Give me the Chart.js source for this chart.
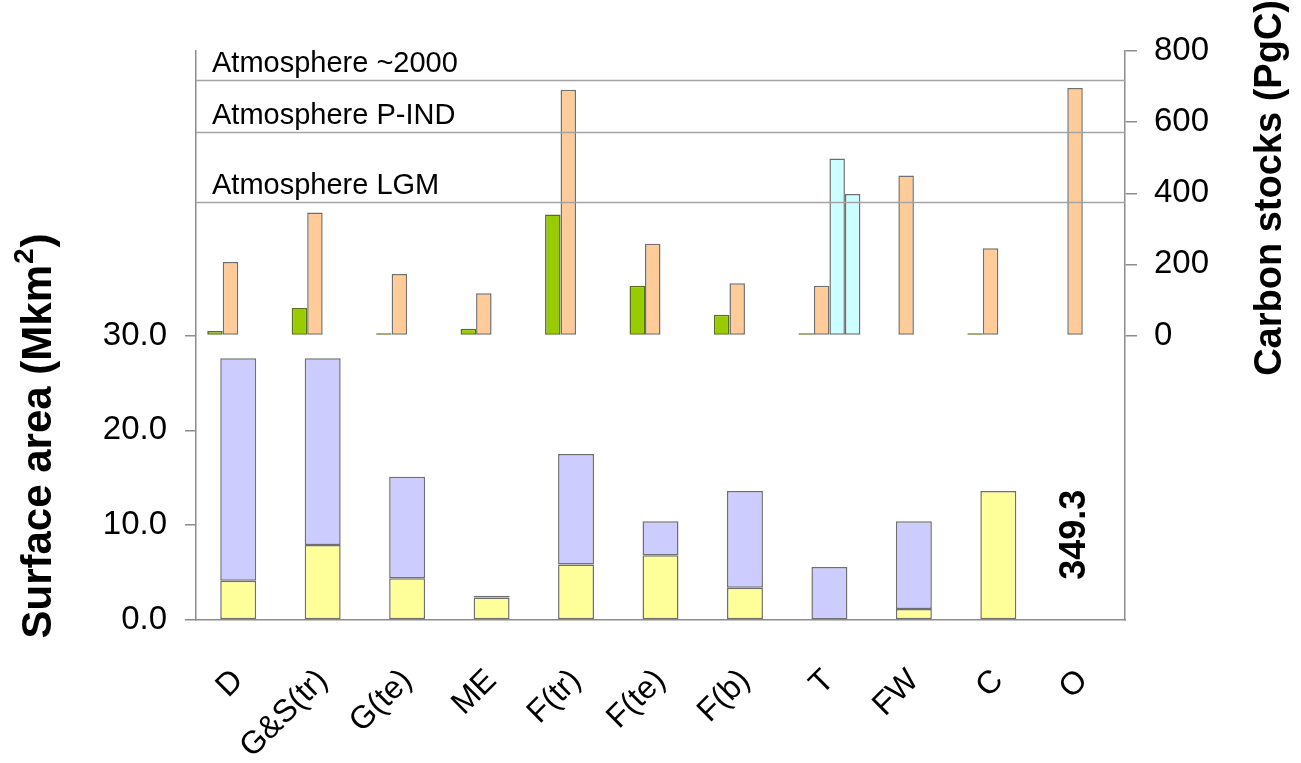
<!DOCTYPE html>
<html>
<head>
<meta charset="utf-8">
<script src="https://cdn.jsdelivr.net/npm/chart.js@4.4.1/dist/chart.umd.min.js"></script>
<style>
  html, body { margin: 0; padding: 0; background: #ffffff; }
  #wrap { width: 1301px; height: 763px; }
</style>
</head>
<body>
<div id="wrap"><canvas id="chart" width="1301" height="763"></canvas></div>
<script>
// Biome categories
const categories = ['D', 'G&S(tr)', 'G(te)', 'ME', 'F(tr)', 'F(te)', 'F(b)', 'T', 'FW', 'C', 'O'];

// Surface area (Mkm²), drawn as two stacked parts
const areaLower = [4.15, 7.9, 4.4, 2.36, 5.85, 6.83, 3.4, null, 1.16, 13.6, null];
const areaUpper = [23.45, 19.7, 10.7, 0.21, 11.65, 3.57, 10.2, 5.6, 9.24, null, null];
// Ocean surface area, off the scale, written as a number instead
const oceanArea = 349.3;

// Carbon stocks (PgC)
const carbonVegetation = [13, 77, 6, 19, 340, 140, 58, 6, null, 6, null];
const carbonSoil = [207, 346, 173, 119, 691, 258, 147, 140, 450, 245, 696];
const carbonFrozenA = [null, null, null, null, null, null, null, 498, null, null, null];
const carbonFrozenB = [null, null, null, null, null, null, null, 398, null, null, null];

// Atmospheric carbon reference levels (PgC)
const atmosphereLabels = ['Atmosphere ~2000', 'Atmosphere P-IND', 'Atmosphere LGM'];
const atmosphereCarbon = [718, 571, 375];

// Labelled ticks
const areaTicks = [0, 10, 20, 30];
const carbonTicks = [0, 200, 400, 600, 800];

const FONT = "'Liberation Sans', Arial, Helvetica, sans-serif";
const EDGE = '#6f6f6f';
const AXIS = '#8c8c8c';

const atmospherePlugin = {
  id: 'atmosphere',
  afterDatasetsDraw(chart) {
    const { ctx, chartArea } = chart;
    const ys = chart.scales.y2;
    ctx.save();
    atmosphereCarbon.forEach((v, i) => {
      const py = Math.round(ys.getPixelForValue(v)) + 0.5;
      ctx.strokeStyle = '#a3a3a3';
      ctx.lineWidth = 1.5;
      ctx.beginPath();
      ctx.moveTo(chartArea.left, py);
      ctx.lineTo(chartArea.right, py);
      ctx.stroke();
      ctx.fillStyle = '#000';
      ctx.font = `29px ${FONT}`;
      ctx.textAlign = 'left';
      ctx.textBaseline = 'alphabetic';
      ctx.fillText(atmosphereLabels[i], chartArea.left + 16, py - 9);
    });
    ctx.restore();
  }
};

const oceanLabelPlugin = {
  id: 'oceanLabel',
  afterDatasetsDraw(chart) {
    const { ctx } = chart;
    const xs = chart.scales.x, ys = chart.scales.y;
    const px = xs.getPixelForValue(categories.length - 1) - 8;
    const py = ys.getPixelForValue(9);
    ctx.save();
    ctx.translate(px, py);
    ctx.rotate(-Math.PI / 2);
    ctx.fillStyle = '#000';
    ctx.font = `bold 36px ${FONT}`;
    ctx.textAlign = 'center';
    ctx.textBaseline = 'middle';
    ctx.fillText(oceanArea.toFixed(1), 0, 0);
    ctx.restore();
  }
};

const axisTitlePlugin = {
  id: 'axisTitles',
  afterDraw(chart) {
    const { ctx, chartArea } = chart;
    const main = `bold 42px ${FONT}`;
    const sup = `bold 28px ${FONT}`;
    ctx.save();
    ctx.fillStyle = '#000';
    ctx.textBaseline = 'middle';
    ctx.textAlign = 'left';

    // Left title with superscript
    const partA = 'Surface area (Mkm', partB = '2', partC = ')';
    ctx.font = main; const wA = ctx.measureText(partA).width; const wC = ctx.measureText(partC).width;
    ctx.font = sup; const wB = ctx.measureText(partB).width;
    const total = wA + wB + wC;
    ctx.translate(chartArea.left - 157, chart.scales.y.getPixelForValue(19.3));
    ctx.rotate(-Math.PI / 2);
    const x0 = -total / 2;
    ctx.font = main; ctx.fillText(partA, x0, 0);
    ctx.font = sup; ctx.fillText(partB, x0 + wA + 1, -14);
    ctx.font = main; ctx.fillText(partC, x0 + wA + wB + 2, 0);
    ctx.restore();

    // Right title
    ctx.save();
    ctx.fillStyle = '#000';
    ctx.font = `bold 38px ${FONT}`;
    ctx.textAlign = 'center';
    ctx.textBaseline = 'middle';
    ctx.translate(chartArea.right + 146, chart.scales.y2.getPixelForValue(415));
    ctx.rotate(-Math.PI / 2);
    ctx.fillText('Carbon stocks (PgC)', 0, 0);
    ctx.restore();
  }
};

// Area bars sit centred on each category; carbon bars form a group of four slots
const areaBar = { yAxisID: 'y', stack: 'area', grouped: false, borderColor: EDGE, borderWidth: 1.5, borderSkipped: false, barPercentage: 0.426, categoryPercentage: 1 };
const carbonBar = { yAxisID: 'y2', grouped: true, borderColor: EDGE, borderWidth: 1.5, borderSkipped: false, barPercentage: 1, categoryPercentage: 0.734 };

new Chart(document.getElementById('chart'), {
  type: 'bar',
  data: {
    labels: categories,
    datasets: [
      Object.assign({ label: 'Area (part 1)', data: areaLower, backgroundColor: '#FFFF99' }, areaBar),
      Object.assign({ label: 'Area (part 2)', data: areaUpper, backgroundColor: '#CCCCFF' }, areaBar),
      Object.assign({ label: 'Vegetation', data: carbonVegetation, backgroundColor: '#99CC00', stack: 'c1' }, carbonBar, { borderColor: '#5a6e1e' }),
      Object.assign({ label: 'Soil', data: carbonSoil, backgroundColor: '#FFCC99', stack: 'c2' }, carbonBar),
      Object.assign({ label: 'Frozen soil A', data: carbonFrozenA, backgroundColor: '#CCFFFF', stack: 'c3' }, carbonBar),
      Object.assign({ label: 'Frozen soil B', data: carbonFrozenB, backgroundColor: '#CCFFFF', stack: 'c4' }, carbonBar)
    ]
  },
  options: {
    responsive: false,
    animation: false,
    devicePixelRatio: 1,
    layout: { padding: { top: 51, left: 0, right: 0, bottom: 0 } },
    plugins: { legend: { display: false }, tooltip: { enabled: false } },
    scales: {
      x: {
        type: 'category', position: 'bottom', stacked: true, offset: true,
        grid: { display: false },
        border: { display: true, color: AXIS, width: 1.5 },
        ticks: { color: '#000', font: { family: FONT, size: 32 }, minRotation: 45, maxRotation: 45, autoSkip: false, padding: 34 },
        afterFit(s) { s.height = 143; }
      },
      y: {
        position: 'left', stacked: true, min: 0, max: 60,
        grid: { drawOnChartArea: false, drawTicks: true, tickLength: 11, lineWidth: 1.5,
                tickColor: c => areaTicks.includes(c.tick.value) ? AXIS : 'rgba(0,0,0,0)' },
        border: { display: true, color: AXIS, width: 1.5 },
        ticks: { stepSize: 10, color: '#000', font: { family: FONT, size: 33 }, padding: 18,
                 callback: v => areaTicks.includes(v) ? v.toFixed(1) : '' },
        afterFit(s) { s.width = 196; }
      },
      y2: {
        position: 'right', stacked: false, min: -800, max: 800,
        grid: { drawOnChartArea: false, drawTicks: true, tickLength: 12, lineWidth: 1.5,
                tickColor: c => carbonTicks.includes(c.tick.value) ? AXIS : 'rgba(0,0,0,0)' },
        border: { display: true, color: AXIS, width: 1.5 },
        ticks: { stepSize: 200, color: '#000', font: { family: FONT, size: 33 }, padding: 17,
                 callback: v => carbonTicks.includes(v) ? String(v) : '' },
        afterFit(s) { s.width = 176; }
      }
    }
  },
  plugins: [atmospherePlugin, oceanLabelPlugin, axisTitlePlugin]
});
</script>
</body>
</html>
